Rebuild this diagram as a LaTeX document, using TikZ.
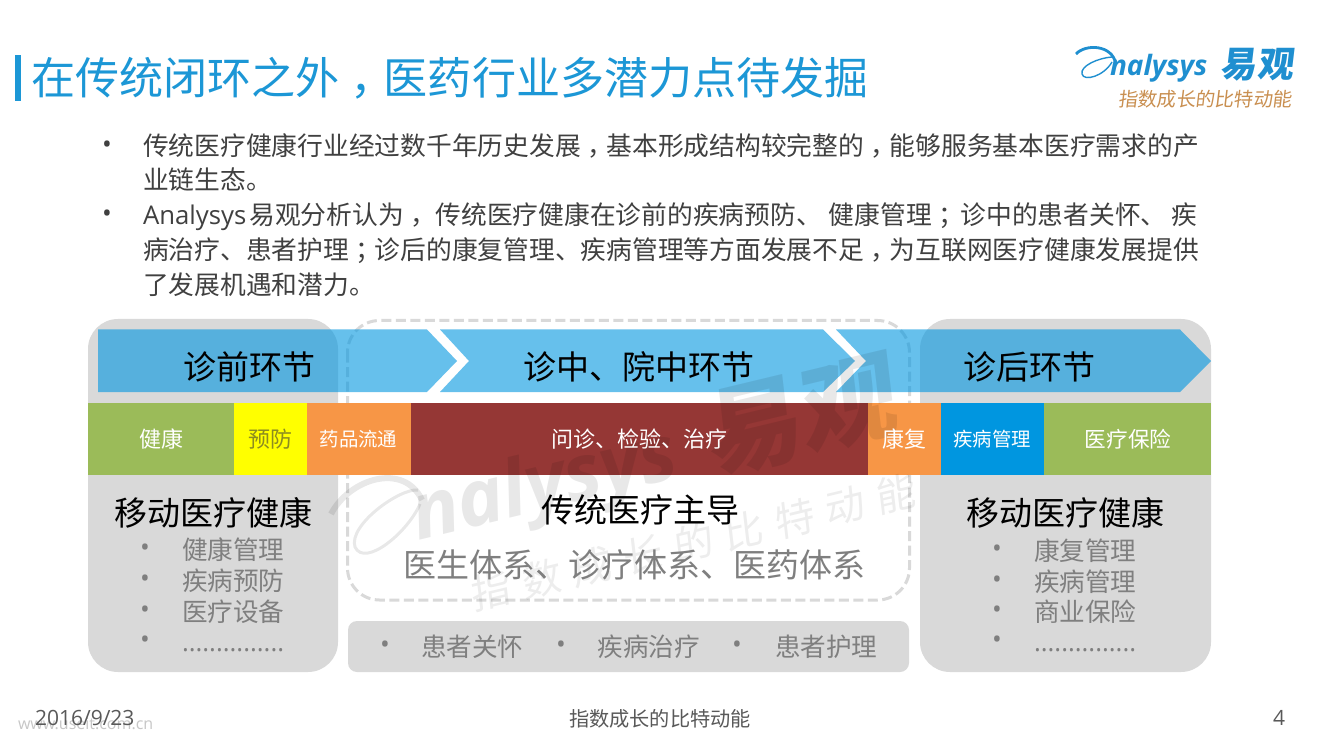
\documentclass[tikz,border=0pt]{standalone}
\usepackage{fontspec}
\setmainfont{Noto Sans CJK SC}
\newfontfamily\lat{Open Sans}
\newfontfamily\cjkslant[FakeSlant=0.12]{Noto Sans CJK SC}
\usetikzlibrary{shapes.geometric}
\definecolor{panelgray}{HTML}{D9D9D9}
\definecolor{titleblue}{HTML}{1C97D6}
\definecolor{bodygray}{HTML}{404040}
\definecolor{midgray}{HTML}{7F7F7F}
\definecolor{arrowblue}{HTML}{0096E0}
\definecolor{leaf}{HTML}{9BBB59}
\definecolor{amber}{HTML}{F79646}
\definecolor{wine}{HTML}{953735}
\definecolor{logoblue}{HTML}{1F8FD0}
\definecolor{pureyellow}{HTML}{FFFF00}
\definecolor{olivetext}{HTML}{8C8C20}
\definecolor{logobrown}{HTML}{C98F50}
\definecolor{footgray}{HTML}{595959}
\newcommand{\fsz}[1]{\fontsize{#1}{#1}\selectfont}
\newcommand{\zc}{\hspace{.25em}，\hspace{-.25em}}
\newcommand{\zs}{\hspace{.25em}；\hspace{-.25em}}
\tikzset{
  x=1pt,y=-1pt,
  txt/.style={inner sep=0pt,outer sep=0pt},
  title/.style={txt,anchor=west,text=titleblue,font=\fsz{44.1}},
  body/.style={txt,anchor=west,text=bodygray,font=\fsz{25.75}},
  bul/.style={txt,text=#1,font=\lat\fsz{26}},
  bul/.default=midgray,
  head/.style={txt,text=black,font=\fsz{33}},
  strip/.style={txt,text=white,font=\fsz{#1}},
  item/.style={txt,anchor=west,text=midgray,font=\fsz{25.6}},
  chevron/.style={fill=arrowblue,fill opacity=.6,draw=none},
  wm/.style={txt,text=black,text opacity=.09,rotate=13.5},
  foot/.style={txt,text=footgray,font=\fsz{20.2}},
}
\begin{document}
\begin{tikzpicture}
\useasboundingbox (0,0) rectangle (1320,743);
\fill[white] (0,0) rectangle (1320,743);
% panels
\fill[panelgray,rounded corners=30] (88,319) rectangle (338,672);
\fill[panelgray,rounded corners=30] (920,319) rectangle (1211,672);
\fill[panelgray,rounded corners=9] (348,621) rectangle (909,672);
\draw[panelgray,line width=3pt,dash pattern=on 10pt off 4.5pt,rounded corners=32] (347.5,320.5) rectangle (909.5,600);
% arrows
\path[chevron] (98,329.5) -- (427,329.5) -- (457,361) -- (427,392) -- (98,392) -- cycle;
\path[chevron] (440,329.5) -- (823,329.5) -- (855,361) -- (823,392) -- (440,392) -- (469,361) -- cycle;
\path[chevron] (836,329.5) -- (1180,329.5) -- (1211,361) -- (1180,392) -- (836,392) -- (866,361) -- cycle;
% colour strip
\fill[leaf] (88,402.5) rectangle (234,475);
\fill[pureyellow] (234,402.5) rectangle (307,475);
\fill[amber] (307,402.5) rectangle (411,475);
\fill[wine] (411,402.5) rectangle (868,475);
\fill[amber] (868,402.5) rectangle (941,475);
\fill[arrowblue] (941,402.5) rectangle (1044,475);
\fill[leaf] (1044,402.5) rectangle (1211,475);
% watermark
\draw[black,opacity=.09,line width=6pt] (331,514) .. controls (350,478) and (404,462) .. (422,500);
\draw[black,opacity=.09,line width=3pt] (418,490) .. controls (400,488) and (348,525) .. (355,547) .. controls (365,568) and (408,532) .. (420,504);
\node[wm,anchor=base west,font=\lat\bfseries\itshape\fsz{78}] (wmname) at (418,540) {nalysys};
\node[wm,anchor=base west,font=\cjkslant\bfseries\fsz{97}] (wmcn) at (712,472) {易观};
\node[wm,anchor=center,text opacity=.07,font=\cjkslant\fsz{40}] (wmslogan) at (692,543) {指\hspace{12pt}数\hspace{12pt}成\hspace{12pt}长\hspace{12pt}的\hspace{12pt}比\hspace{12pt}特\hspace{12pt}动\hspace{12pt}能};
% title
\fill[titleblue] (15,55) rectangle (20.5,101);
\node[title] (title) at (31,78) {在传统闭环之外\zc 医药行业多潜力点待发掘};
% logo
\draw[logoblue,line width=2.8pt] (1076,54) .. controls (1085,44) and (1112,44) .. (1116,64);
\draw[logoblue,line width=1.4pt] (1112,57) .. controls (1098,58) and (1080,66) .. (1082,74) .. controls (1084,82) and (1104,76) .. (1112,62);
\node[txt,anchor=base west,text=logoblue,font=\lat\bfseries\itshape\fsz{28}] (logoname) at (1110,76) {nalysys};
\node[txt,anchor=center,text=logoblue,font=\cjkslant\bfseries\fsz{36}] (logocn) at (1257,65) {易\hspace{2pt}观};
\node[txt,anchor=center,text=logobrown,font=\cjkslant\fsz{19.3}] (logoslogan) at (1205,99) {指数成长的比特动能};
% body text
\node[bul=bodygray] (b1) at (107,147) {•};
\node[body] (l1) at (143,146) {传统医疗健康行业经过数千年历史发展\zc 基本形成结构较完整的\zc 能够服务基本医疗需求的产};
\node[body] (l2) at (143,180) {业链生态。};
\node[bul=bodygray] (b2) at (107,216) {•};
\node[body] (l3) at (143,217) {{\lat Analysys}\hspace{3pt}易观分析认为\zc\hspace{6pt}传统医疗健康在诊前的疾病预防、\hspace{7pt}健康管理\zs\hspace{3pt}诊中的患者关怀、\hspace{5pt}疾};
\node[body] (l4) at (143,251) {病治疗、患者护理\zs 诊后的康复管理、疾病管理等方面发展不足\zc 为互联网医疗健康发展提供};
\node[body] (l5) at (143,285) {了发展机遇和潜力。};
% arrow labels
\node[head] (h1) at (249,367) {诊前环节};
\node[head] (h2) at (639,367) {诊中、院中环节};
\node[head] (h3) at (1029,367) {诊后环节};
% strip labels
\node[strip=22] (s1) at (161,439) {健康};
\node[strip=22,text=olivetext] (s2) at (270,439) {预防};
\node[strip=19.4] (s3) at (358.5,439) {药品流通};
\node[strip=22] (s4) at (639,439) {问诊、检验、治疗};
\node[strip=22] (s5) at (904,439) {康复};
\node[strip=19.4] (s6) at (992,439) {疾病管理};
\node[strip=21.6] (s7) at (1128,439) {医疗保险};
% left list
\node[head] (ml) at (213,513) {移动医疗健康};
\node[bul] (la) at (145,550) {•};
\node[item] (lat1) at (182,550) {健康管理};
\node[bul] (lb) at (145,581) {•};
\node[item] (lat2) at (182,581) {疾病预防};
\node[bul] (lc) at (145,612) {•};
\node[item] (lat3) at (182,612) {医疗设备};
\node[bul] (ld) at (145,642) {•};
\node[txt,anchor=base west,text=midgray,font=\lat\fsz{25.6}] (lat4) at (182,651) {...............};
% centre
\node[head] (mc) at (640,510) {传统医疗主导};
\node[head,text=midgray] (mc2) at (634,565) {医生体系、诊疗体系、医药体系};
\node[bul] (ca) at (385,647) {•};
\node[item] (cat1) at (421,647) {患者关怀};
\node[bul] (cb) at (561,647) {•};
\node[item] (cat2) at (597.5,647) {疾病治疗};
\node[bul] (cc) at (737,647) {•};
\node[item] (cat3) at (775,647) {患者护理};
% right list
\node[head] (mr) at (1065.5,513) {移动医疗健康};
\node[bul] (ra) at (997,551) {•};
\node[item] (rat1) at (1034,551) {康复管理};
\node[bul] (rb) at (997,582) {•};
\node[item] (rat2) at (1034,582) {疾病管理};
\node[bul] (rc) at (997,612) {•};
\node[item] (rat3) at (1034,612) {商业保险};
\node[bul] (rd) at (997,642) {•};
\node[txt,anchor=base west,text=midgray,font=\lat\fsz{25.6}] (rat4) at (1034,651) {...............};
% footer
\node[txt,anchor=west,text=black!22,font=\lat\fsz{16}] (url) at (18,724) {www.useit.com.cn};
\node[foot,anchor=west,font=\lat\fsz{21}] (date) at (35,718) {2016/9/23};
\node[foot] (slogan) at (660,719) {指数成长的比特动能};
\node[foot,font=\lat\fsz{21}] (page) at (1279,718) {4};
\end{tikzpicture}
\end{document}
